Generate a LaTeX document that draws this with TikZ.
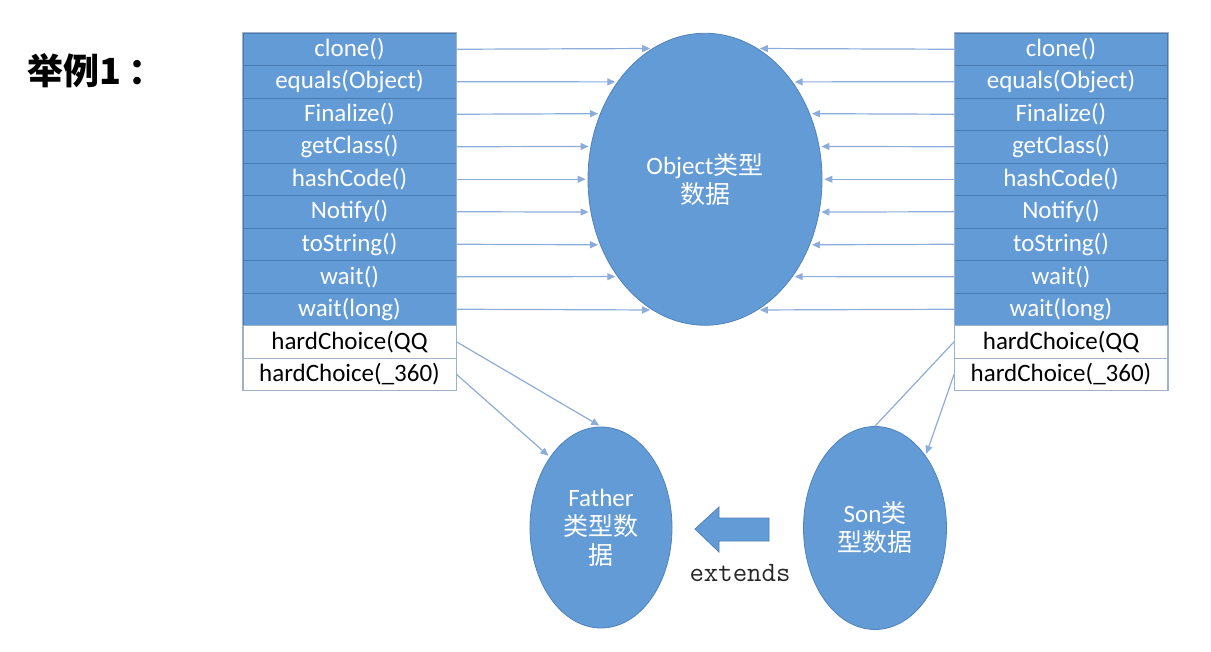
\documentclass[tikz,border=0pt]{standalone}
\usepackage{fontspec}
\setmainfont{Carlito}
\newfontfamily\cjk{Noto Sans CJK SC}
\usetikzlibrary{shapes.geometric,arrows.meta}
\definecolor{rowblue}{RGB}{98,155,213}
\definecolor{rowline}{RGB}{72,122,178}
\definecolor{gridgray}{RGB}{160,178,200}
\definecolor{linkblue}{RGB}{140,172,218}
\definecolor{blobline}{RGB}{80,130,185}

\begin{document}
\begin{tikzpicture}[x=0.5pt,y=-0.5pt,
    every node/.style={font=\fontsize{12.5}{14.5}\selectfont},
    mrow/.style={draw=rowline,fill=rowblue,text=white,minimum width=106.5pt,minimum height=16.25pt,inner sep=0pt},
    hrow/.style={mrow,draw=gridgray,fill=white,text=black},
    blob/.style={ellipse,draw=blobline,fill=rowblue,text=white,inner sep=0pt,align=center},
    link/.style={draw=linkblue,line width=0.6pt,-{Triangle[length=4pt,width=3.5pt]},shorten >=1pt}]
        \useasboundingbox (0,0) rectangle (1211,652);
        \node[font=\cjk\bfseries\fontsize{18}{22}\selectfont,anchor=west,inner sep=0pt] (title) at (27,71) {举例1\hspace{3.5pt}：};
        % the two method tables
        \foreach \t [count=\i] in {clone(),equals(Object),Finalize(),getClass(),hashCode(),Notify(),toString(),wait(),wait(long)}{
          \node[mrow] (l\i) at (349.5,{33+32.5*(\i-0.5)}) {\t};
          \node[mrow] (r\i) at (1061,{33+32.5*(\i-0.5)}) {\t};
        }
        \node[hrow] (l10) at (349.5,341.75) {hardChoice(QQ};
        \node[hrow] (l11) at (349.5,374.25) {hardChoice(\_360)};
        \node[hrow] (r10) at (1061,341.75) {hardChoice(QQ};
        \node[hrow] (r11) at (1061,374.25) {hardChoice(\_360)};
        \draw[gridgray] (l1.north west) rectangle (l11.south east);
        \draw[gridgray] (r1.north west) rectangle (r11.south east);
        % the three objects
        \node[blob,minimum width=117pt,minimum height=146pt] (obj) at (705,179.25) {Object{\cjk 类型}\\{\cjk 数据}};
        \node[blob,minimum width=71pt,minimum height=100.5pt] (fa) at (601,527.5) {Father\\{\cjk 类型数}\\{\cjk 据}};
        \node[blob,minimum width=71.5pt,minimum height=101.5pt] (son) at (875,528) {Son{\cjk 类}\\{\cjk 型数据}};
        \foreach \i/\a in {1/112,2/132,3/148,4/164,5/180,6/196,7/212,8/228,9/248}{
          \pgfmathtruncatemacro\b{mod(540-\a,360)}
          \draw[link] (l\i.east) -- (obj.\a);
          \draw[link] (r\i.west) -- (obj.\b);
        }
        \draw[link] (l10.east) -- (fa.north);
        \draw[link] (l11.east) -- (fa.126);
        \draw[draw=linkblue,line width=0.6pt] (r10.west) -- (son.north);
        \draw[link] (r11.west) -- (son.55);
        % extends
        \draw[fill=rowblue,draw=blobline] (695,529) -- (719,507) -- (719,518) -- (769,518) -- (769,541) -- (719,541) -- (719,552) -- cycle;
        \node[font=\ttfamily\fontsize{14}{16}\selectfont,text=black!85] (ext) at (740,573) {extends};
\end{tikzpicture}
\end{document}
